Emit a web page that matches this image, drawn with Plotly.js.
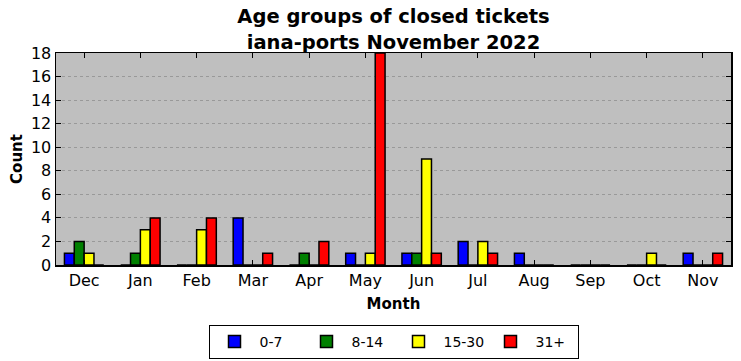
<!DOCTYPE html>
<html>
<head>
<meta charset="utf-8">
<script src="https://cdn.plot.ly/plotly-3.0.1.min.js"></script>
<style>html,body{margin:0;padding:0;background:#fff;}#chart{width:741px;height:361px;}</style>
</head>
<body>
<div id="chart"></div>
<script>
var months = ["Dec","Jan","Feb","Mar","Apr","May","Jun","Jul","Aug","Sep","Oct","Nov"];
var seriesNames = ["0-7","8-14","15-30","31+"];
var age0to7   = [1,0,0,4,0,1,1,2,1,0,0,1];
var age8to14  = [2,1,0,0,1,0,1,0,0,0,0,0];
var age15to30 = [1,3,3,0,0,1,9,2,0,0,1,0];
var age31plus = [0,4,4,1,2,18,1,1,0,0,0,1];
var colors = ["#0000ff","#008000","#ffff00","#ff0000"];
var yTicks = [0,2,4,6,8,10,12,14,16,18];

var allValues = [age0to7, age8to14, age15to30, age31plus];
var xIdx = months.map(function(m,i){return i;});
var traces = allValues.map(function(vals, k){
  return {
    type: "bar",
    name: seriesNames[k],
    x: xIdx,
    y: vals,
    marker: {color: colors[k], line: {color: "#000000", width: 1.5}},
    hoverinfo: "x+y+name"
  };
});

var font = "DejaVu Sans, sans-serif";
var layout = {
  width: 741, height: 361,
  margin: {l: 56, r: 10, t: 53, b: 96, autoexpand: false},
  paper_bgcolor: "#ffffff",
  plot_bgcolor: "#bfbfbf",
  barmode: "group",
  bargap: 0.3,
  bargroupgap: 0,
  font: {family: font, size: 16, color: "#000000"},
  title: {
    text: "<b>Age groups of closed tickets</b><br><b>iana-ports November 2022</b>",
    font: {family: font, size: 19.5, color: "#000000"},
    x: 0.5, xref: "paper", xanchor: "center",
    y: 0.935, yref: "container", yanchor: "top"
  },
  xaxis: {
    range: [-0.5, 11.5],
    tickmode: "array",
    tickvals: xIdx,
    ticktext: months,
    ticks: "inside", ticklen: 5, tickcolor: "#000000",
    showline: true, linecolor: "#000000", linewidth: 1.5, mirror: "ticks",
    showgrid: false, zeroline: false,
    tickfont: {family: font, size: 16},
    title: {text: "<b>Month</b>", font: {family: font, size: 15}, standoff: 10}
  },
  yaxis: {
    range: [0, 18],
    tickmode: "array",
    tickvals: yTicks,
    ticks: "inside", ticklen: 5, tickcolor: "#000000",
    showline: true, linecolor: "#000000", linewidth: 1.5, mirror: "ticks",
    showgrid: true, gridcolor: "#999999", griddash: "dot", gridwidth: 1,
    zeroline: false,
    tickfont: {family: font, size: 16},
    title: {text: "<b>Count</b>", font: {family: font, size: 15}, standoff: 4}
  },
  showlegend: true,
  legend: {
    orientation: "h",
    x: 0.5, xref: "paper", xanchor: "center",
    y: 0.1, yref: "container", yanchor: "top",
    bordercolor: "#000000", borderwidth: 1,
    bgcolor: "#ffffff",
    font: {family: font, size: 14},
    entrywidth: 37, entrywidthmode: "pixels",
    itemwidth: 40
  }
};

Plotly.newPlot("chart", traces, layout, {staticPlot: true, displayModeBar: false});
</script>
</body>
</html>
